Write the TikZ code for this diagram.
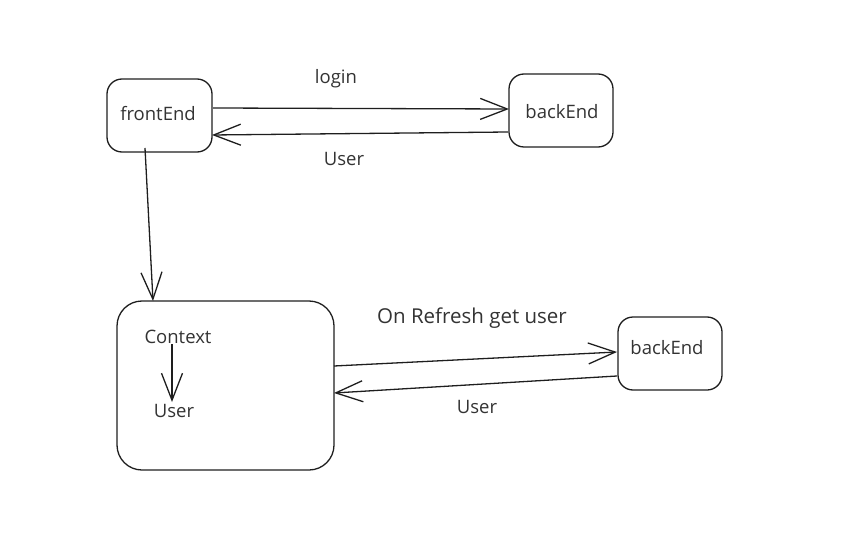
\documentclass[tikz,border=0pt]{standalone}
\usepackage{fontspec}
\setmainfont{Open Sans}
\usetikzlibrary{arrows.meta}
\definecolor{ink}{HTML}{1E1E1E}
\definecolor{txt}{HTML}{333333}
\tikzset{
  box/.style={draw=ink, line width=1.3pt, rounded corners=15pt},
  lbl/.style={text=txt, font=\fontsize{18.5}{22}\selectfont, inner sep=0pt},
  conn/.style={draw=ink, line width=1.3pt, -{Straight Barb[length=27pt,width=21pt,line width=1.3pt]}}
}
\begin{document}
\begin{tikzpicture}[x=1pt,y=-1pt]
\useasboundingbox (0,0) rectangle (842,545);
% boxes
\draw[box] (107,79) rectangle (212,152);
\draw[box] (509,74) rectangle (613,147);
\draw[box, rounded corners=25pt] (117,301) rectangle (334,470);
\draw[box] (618,317) rectangle (722,390);
% coordinates for connectors
\coordinate (feR1) at (213,108);
\coordinate (be1L1) at (509,109);
\coordinate (be1L2) at (508,132);
\coordinate (feR2) at (212,135);
\coordinate (feB) at (145,148);
\coordinate (ctxT) at (153,301);
\coordinate (ctxR1) at (334,366);
\coordinate (be2L1) at (617,352);
\coordinate (be2L2) at (617,376);
\coordinate (ctxR2) at (334,393);
\coordinate (cs) at (172,344);
\coordinate (ue) at (172,402);
% texts
\node[lbl] (fe) at (158,114) {frontEnd};
\node[lbl] (be1) at (562,112) {backEnd};
\node[lbl] (be2) at (667,348) {backEnd};
\node[lbl] (ctx) at (178,337) {Context};
\node[lbl] (usr) at (174,411) {User};
\node[lbl] (login) at (336,79) {login};
\node[lbl] (u1) at (344,159) {User};
\node[lbl, font=\fontsize{20.5}{24}\selectfont] (refresh) at (472,318) {On Refresh get user};
\node[lbl] (u2) at (477,407) {User};
% connectors
\draw[conn] (feR1) -- (be1L1);
\draw[conn] (be1L2) -- (feR2);
\draw[conn] (feB) -- (ctxT);
\draw[conn] (cs) -- (ue);
\draw[conn] (ctxR1) -- (be2L1);
\draw[conn] (be2L2) -- (ctxR2);
\end{tikzpicture}
\end{document}
